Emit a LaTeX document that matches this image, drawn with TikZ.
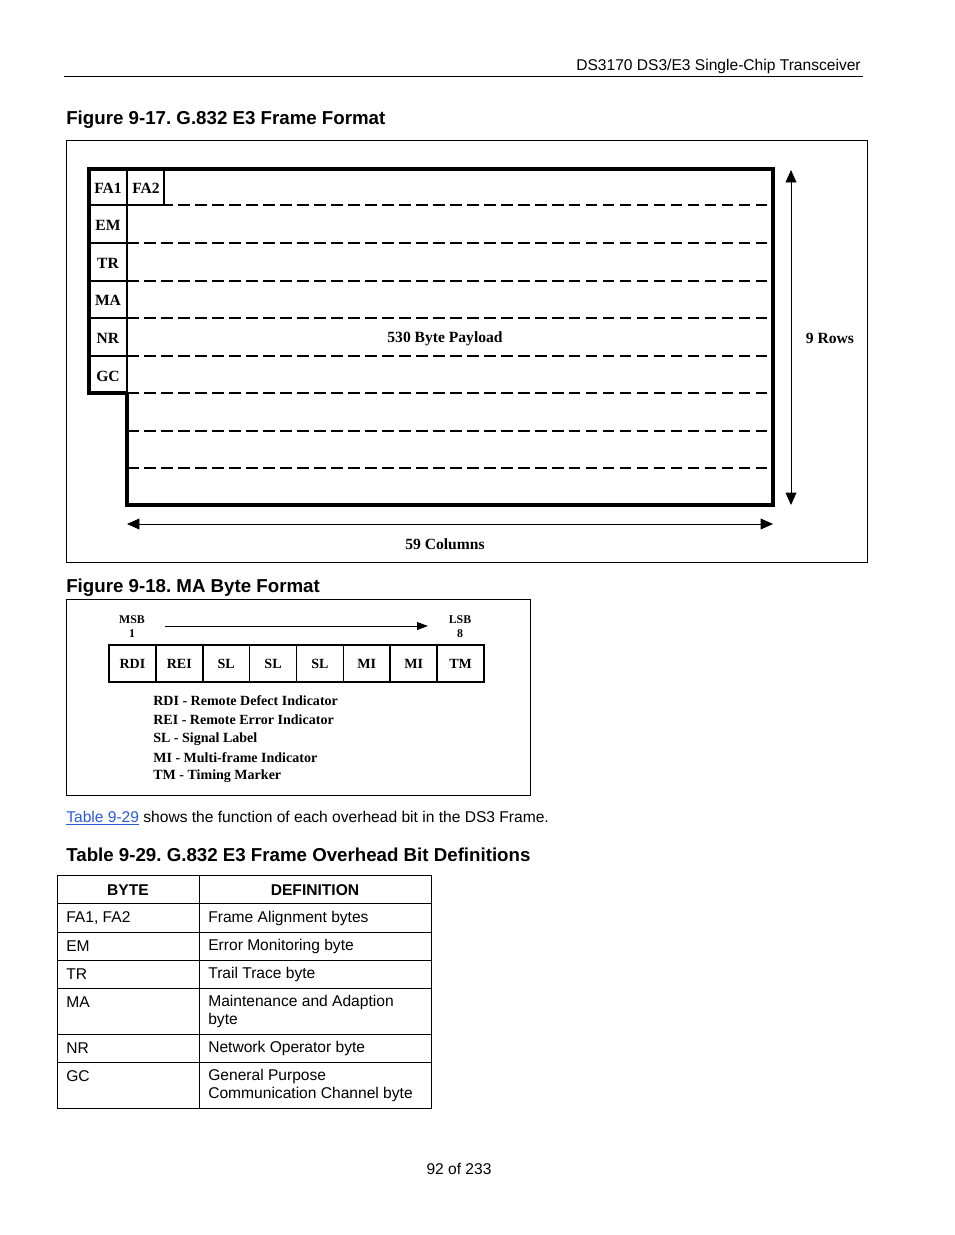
\documentclass[tikz,border=0pt]{standalone}
\usepackage{fontspec}
\setmainfont{Liberation Sans}
\newfontfamily\tms{Liberation Serif}
\usetikzlibrary{arrows.meta}
\definecolor{linkblue}{RGB}{40,90,220}
\begin{document}
\begin{tikzpicture}[x=0.6417pt,y=-0.6417pt,
  body/.style={inner sep=0pt,font=\frenchspacing\fontsize{10}{12}\selectfont},
  head/.style={inner sep=0pt,font=\frenchspacing\fontsize{12}{14}\selectfont\bfseries},
  lab/.style={inner sep=0pt,font=\tms\fontsize{10}{12}\selectfont\bfseries},
  smalllab/.style={inner sep=0pt,font=\tms\fontsize{9}{10}\selectfont\bfseries,align=center},
  tinylab/.style={inner sep=0pt,font=\tms\fontsize{7.6}{9}\selectfont\bfseries,align=center},
  framebox/.style={draw,line width=0.6pt},
  thickline/.style={line width=2.4pt},
  thindash/.style={line width=0.8pt,dash pattern=on 7.6pt off 3.3pt},
  thickdash/.style={line width=1.5pt,dash pattern=on 7.6pt off 3.3pt},
  dimarrow/.style={line width=0.6pt,{Triangle[length=8pt,width=7pt]}-{Triangle[length=8pt,width=7pt]}},
  onearrow/.style={line width=0.6pt,-{Triangle[length=7pt,width=5pt]}},
  cell/.style={draw,line width=1pt,minimum width=30pt,minimum height=23.7pt,inner sep=0pt,font=\tms\fontsize{9}{10}\selectfont\bfseries},
  tcell/.style={line width=0.6pt}
]
\useasboundingbox (0,0) rectangle (954,1235);
% page header
\node[body,anchor=east] (hdr) at (861,66.5) {DS3170 DS3/E3 Single-Chip Transceiver};
\draw[line width=0.6pt] (64,76) -- (863,76);

% ---------- Figure 9-17
\node[head,anchor=west] (fig1) at (66,120) {Figure 9-17. G.832 E3 Frame Format};
\draw[framebox] (66,140) rectangle (867,562);

% row boundaries (dashed)
\foreach \yy/\st in {205/thickdash,243/thindash,281/thickdash,318/thindash,356/thickdash,393/thindash,431/thickdash,468/thickdash}{
  \draw[\st] (127,\yy) -- (773,\yy);
}
% label column separators
\foreach \yy in {205,243,281,318,356}{
  \draw[line width=0.8pt] (89,\yy) -- (127,\yy);
}
\draw[line width=0.8pt] (127,205) -- (164,205);
\draw[line width=0.8pt] (127,169) -- (127,393);
\draw[line width=0.8pt] (164,169) -- (164,205);
% thick frame outline
\draw[thickline,line join=miter] (127,393) -- (89,393) -- (89,169) -- (773,169) -- (773,505) -- (127,505) -- (127,392);

\node[lab] (fa1) at (108,188.5) {FA1};
\node[lab] (fa2) at (146,188.5) {FA2};
\node[lab] (em) at (108,225.5) {EM};
\node[lab] (tr) at (108,263.5) {TR};
\node[lab] (ma) at (108,300.5) {MA};
\node[lab] (nr) at (108,338.5) {NR};
\node[lab] (gc) at (108,376) {GC};
\node[lab] (payload) at (445,338.5) {530 Byte Payload};

\coordinate (rowtop) at (791,170);
\coordinate (rowbot) at (791,505);
\draw[dimarrow] (rowtop) -- (rowbot);
\node[lab] (rows) at (830,338.5) {9 Rows};

\coordinate (colL) at (127,524);
\coordinate (colR) at (773,524);
\draw[dimarrow] (colL) -- (colR);
\node[lab] (cols) at (445,544) {59 Columns};

% ---------- Figure 9-18
\node[head,anchor=west] (fig2) at (66,587.5) {Figure 9-18. MA Byte Format};
\draw[framebox] (66,599) rectangle (530,795);
\node[tinylab] (msb) at (132,627) {MSB\\1};
\node[tinylab] (lsb) at (460,627) {LSB\\8};
\coordinate (arrS) at (165,626);
\coordinate (arrE) at (428,626);
\draw[onearrow] (arrS) -- (arrE);
\foreach \i/\t in {0/RDI,1/REI,2/SL,3/SL,4/SL,5/MI,6/MI,7/TM}{
  \node[cell] (b\i) at ({109+46.875*(\i+0.5)},663.5) {\t};
}
\node[smalllab,anchor=west] (l1) at (153,701) {RDI - Remote Defect Indicator};
\node[smalllab,anchor=west] (l2) at (153,720) {REI - Remote Error Indicator};
\node[smalllab,anchor=west] (l3) at (153,739) {SL - Signal Label};
\node[smalllab,anchor=west] (l4) at (153,758) {MI - Multi-frame Indicator};
\node[smalllab,anchor=west] (l5) at (153,776) {TM - Timing Marker};

% ---------- text
\node[body,anchor=base west] (para) at (66,822) {\textcolor{linkblue}{\underline{Table 9-29}} shows the function of each overhead bit in the DS3 Frame.};
\node[head,anchor=west] (tab) at (66,855) {Table 9-29. G.832 E3 Frame Overhead Bit Definitions};

% ---------- table
\draw[tcell] (57,875) rectangle (431,1108);
\draw[tcell] (199,875) -- (199,1108);
\foreach \yy in {903,932,960,988,1034,1062}{
  \draw[tcell] (57,\yy) -- (431,\yy);
}
\node[body,font=\fontsize{10}{12}\selectfont\bfseries] (th1) at (128,890) {BYTE};
\node[body,font=\fontsize{10}{12}\selectfont\bfseries] (th2) at (315,890) {DEFINITION};
\node[body,anchor=west] (r1a) at (66,918) {FA1, FA2};
\node[body,anchor=west] (r1b) at (208,918) {Frame Alignment bytes};
\node[body,anchor=west] (r2a) at (66,946) {EM};
\node[body,anchor=west] (r2b) at (208,946) {Error Monitoring byte};
\node[body,anchor=west] (r3a) at (66,974) {TR};
\node[body,anchor=west] (r3b) at (208,974) {Trail Trace byte};
\node[body,anchor=west] (r4a) at (66,1002) {MA};
\node[body,anchor=north west,align=left,font=\fontsize{10}{11.6}\selectfont] (r4b) at (208,995) {Maintenance and Adaption\\byte};
\node[body,anchor=west] (r5a) at (66,1048) {NR};
\node[body,anchor=west] (r5b) at (208,1048) {Network Operator byte};
\node[body,anchor=west] (r6a) at (66,1076) {GC};
\node[body,anchor=north west,align=left,font=\fontsize{10}{11.6}\selectfont] (r6b) at (208,1069) {General Purpose\\Communication Channel byte};

% footer
\node[body] (pg) at (459,1169) {92 of 233};
\end{tikzpicture}
\end{document}
